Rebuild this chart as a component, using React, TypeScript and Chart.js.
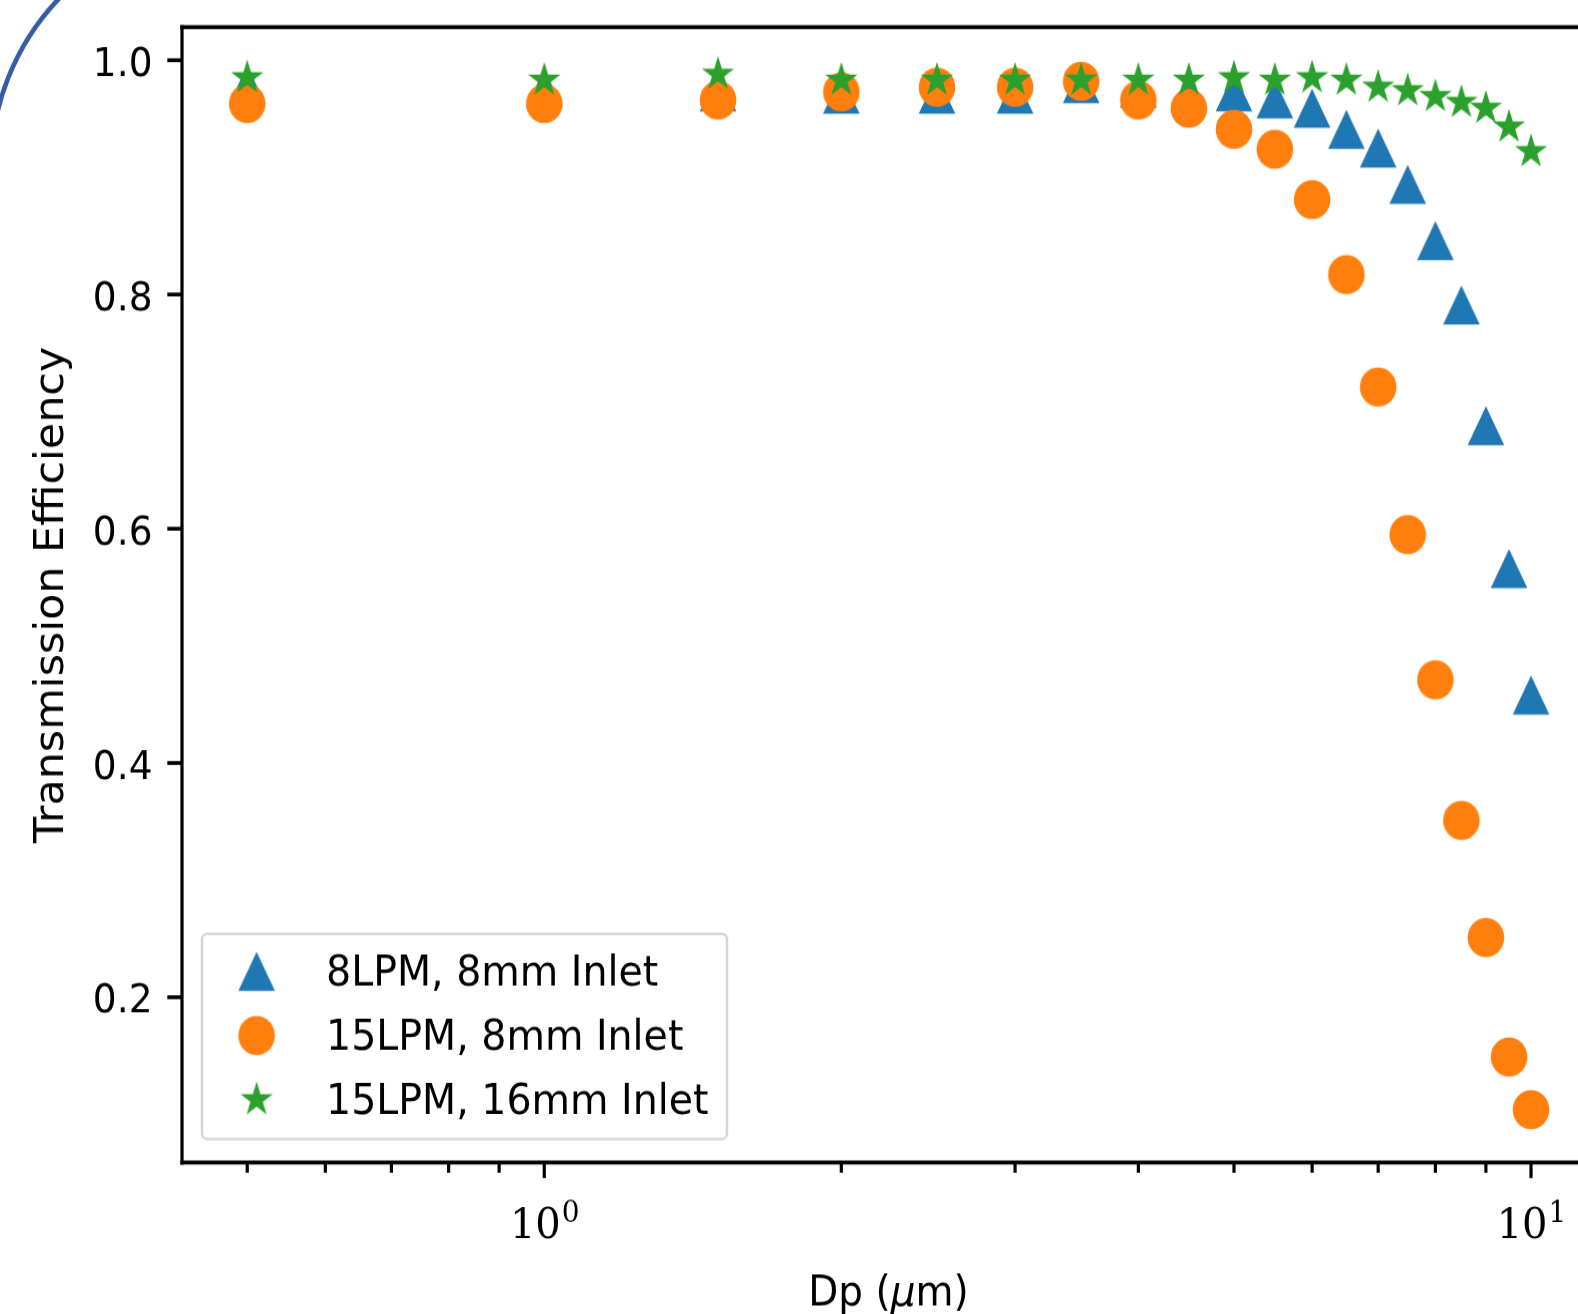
import React, { useEffect, useRef } from 'react';
import { Chart, registerables } from 'chart.js';

Chart.register(...registerables);

// ---------------- data ----------------
const diameters = [0.5, 1, 1.5, 2, 2.5, 3, 3.5, 4, 4.5, 5, 5.5, 6, 6.5, 7, 7.5, 8, 8.5, 9, 9.5, 10];
const eff8LPM8mm = [0.979, 0.976, 0.973, 0.971, 0.971, 0.971, 0.98, 0.976, 0.972, 0.973, 0.967, 0.959, 0.941, 0.925, 0.894, 0.846, 0.791, 0.688, 0.566, 0.458];
const eff15LPM8mm = [0.963, 0.963, 0.966, 0.973, 0.977, 0.977, 0.982, 0.966, 0.959, 0.941, 0.924, 0.881, 0.817, 0.721, 0.595, 0.471, 0.351, 0.251, 0.149, 0.104];
const eff15LPM16mm = [0.985, 0.983, 0.988, 0.983, 0.983, 0.983, 0.983, 0.983, 0.983, 0.985, 0.983, 0.985, 0.983, 0.977, 0.974, 0.969, 0.964, 0.959, 0.943, 0.922];

const seriesLabels = ['8LPM, 8mm Inlet', '15LPM, 8mm Inlet', '15LPM, 16mm Inlet'];
const seriesColors = ['#1f77b4', '#ff7f0e', '#2ca02c'];
const seriesMarkers = ['triangle', 'circle', 'star'];

const yTickValues = [0.2, 0.4, 0.6, 0.8, 1.0];
const yTickLabels = ['0.2', '0.4', '0.6', '0.8', '1.0'];
const xMajorTicks = [1, 10];
const xMajorBase = ['10', '10'];
const xMajorExp = ['0', '1'];
const xMinorTicks = [0.5, 0.6, 0.7, 0.8, 0.9, 2, 3, 4, 5, 6, 7, 8, 9];

const xTitleParts = ['Dp (', 'μ', 'm)'];
const yTitle = 'Transmission Efficiency';

// axis ranges
const X_MIN = 0.4294;
const X_MAX = 11.61;
const Y_MIN = 0.0589;
const Y_MAX = 1.0282;

// ---------------- geometry ----------------
const W = 1620;
const H = 1228;
const SY = 1314 / 1228;
const AREA_LEFT = 182;
const AREA_RIGHT = 1595;
const AREA_TOP = 25.4;
const AREA_BOTTOM = 1086.4;

function makeMarker(kind: string, color: string): HTMLCanvasElement {
  const size = 44;
  const c = document.createElement('canvas');
  c.width = size;
  c.height = size;
  const g = c.getContext('2d')!;
  const m = size / 2;
  g.fillStyle = color;
  g.beginPath();
  if (kind === 'circle') {
    g.arc(m, m, 18.3, 0, Math.PI * 2);
  } else if (kind === 'triangle') {
    const h = 18.3;
    g.moveTo(m, m - h);
    g.lineTo(m + h, m + h);
    g.lineTo(m - h, m + h);
    g.closePath();
  } else {
    const R = 17;
    const r = R * 0.381966;
    for (let k = 0; k < 10; k++) {
      const rad = k % 2 === 0 ? R : r;
      const a = -Math.PI / 2 + (k * Math.PI) / 5;
      const px = m + rad * Math.cos(a);
      const py = m + rad * Math.sin(a);
      if (k === 0) g.moveTo(px, py);
      else g.lineTo(px, py);
    }
    g.closePath();
  }
  g.fill();
  return c;
}

export default function App() {
  const ref = useRef<HTMLCanvasElement | null>(null);

  useEffect(() => {
    const canvas = ref.current;
    if (!canvas) return;
    const markers = seriesMarkers.map((k, i) => makeMarker(k, seriesColors[i]));
    const seriesValues = [eff8LPM8mm, eff15LPM8mm, eff15LPM16mm];

    const decorPlugin = {
      id: 'decor',
      afterDraw(chart: any) {
        const { ctx, chartArea: ca, scales } = chart;
        const xs = scales.x;
        const ys = scales.y;
        ctx.save();
        ctx.fillStyle = '#000';
        ctx.strokeStyle = '#000';
        ctx.lineCap = 'butt';

        // y ticks
        ctx.lineWidth = 3.6;
        ctx.font = '37.5px "DejaVu Sans"';
        ctx.textAlign = 'right';
        ctx.textBaseline = 'alphabetic';
        yTickValues.forEach((v, i) => {
          const py = ys.getPixelForValue(v);
          ctx.beginPath();
          ctx.moveTo(ca.left - 14.7, py);
          ctx.lineTo(ca.left, py);
          ctx.stroke();
          ctx.fillText(yTickLabels[i], ca.left - 29.5, py + 14.5);
        });

        // x ticks
        ctx.lineWidth = 3.2;
        xMinorTicks.forEach((v) => {
          const px = xs.getPixelForValue(v);
          ctx.beginPath();
          ctx.moveTo(px, ca.bottom);
          ctx.lineTo(px, ca.bottom + 9.6);
          ctx.stroke();
        });
        xMajorTicks.forEach((v, i) => {
          const px = xs.getPixelForValue(v);
          ctx.beginPath();
          ctx.moveTo(px, ca.bottom);
          ctx.lineTo(px, ca.bottom + 14.5);
          ctx.stroke();
          const baseFont = '40px "DejaVu Serif"';
          const expFont = '28px "DejaVu Serif"';
          ctx.font = baseFont;
          const wb = ctx.measureText(xMajorBase[i]).width;
          ctx.font = expFont;
          const we = ctx.measureText(xMajorExp[i]).width;
          const start = px - (wb + we) / 2;
          ctx.textAlign = 'left';
          ctx.font = baseFont;
          ctx.fillText(xMajorBase[i], start, ca.bottom + 70.9);
          ctx.font = expFont;
          ctx.fillText(xMajorExp[i], start + wb + 1, ca.bottom + 55.4);
        });

        // spines
        ctx.lineWidth = 3.2;
        ctx.beginPath();
        ctx.moveTo(ca.left, ca.top - 2);
        ctx.lineTo(ca.left, ca.bottom + 2);
        ctx.moveTo(ca.right, ca.top - 2);
        ctx.lineTo(ca.right, ca.bottom + 2);
        ctx.stroke();
        ctx.lineWidth = 3.8;
        ctx.beginPath();
        ctx.moveTo(ca.left - 1.6, ca.top);
        ctx.lineTo(ca.right + 1.6, ca.top);
        ctx.moveTo(ca.left - 1.6, ca.bottom);
        ctx.lineTo(ca.right + 1.6, ca.bottom);
        ctx.stroke();

        // x title with italic mu
        const fN = '39px "DejaVu Sans"';
        const fI = 'italic 39px "DejaVu Sans"';
        const fonts = [fN, fI, fN];
        const widths = xTitleParts.map((t, i) => {
          ctx.font = fonts[i];
          return ctx.measureText(t).width;
        });
        const totalW = widths.reduce((a, b) => a + b, 0);
        let tx = (ca.left + ca.right) / 2 - totalW / 2;
        ctx.textAlign = 'left';
        xTitleParts.forEach((t, i) => {
          ctx.font = fonts[i];
          ctx.fillText(t, tx, ca.bottom + 133.1);
          tx += widths[i];
        });

        // y title
        ctx.save();
        ctx.translate(63.3, (ca.top + ca.bottom) / 2);
        ctx.rotate(-Math.PI / 2);
        ctx.font = '40px "DejaVu Sans"';
        ctx.textAlign = 'center';
        ctx.fillText(yTitle, 0, 0);
        ctx.restore();

        // legend
        const lx0 = ca.left + 20;
        const lx1 = ca.left + 545;
        const ly1 = ca.bottom - 22;
        const ly0 = ly1 - 191.6;
        const rr = 5;
        ctx.beginPath();
        ctx.moveTo(lx0 + rr, ly0);
        ctx.lineTo(lx1 - rr, ly0);
        ctx.arcTo(lx1, ly0, lx1, ly0 + rr, rr);
        ctx.lineTo(lx1, ly1 - rr);
        ctx.arcTo(lx1, ly1, lx1 - rr, ly1, rr);
        ctx.lineTo(lx0 + rr, ly1);
        ctx.arcTo(lx0, ly1, lx0, ly1 - rr, rr);
        ctx.lineTo(lx0, ly0 + rr);
        ctx.arcTo(lx0, ly0, lx0 + rr, ly0, rr);
        ctx.closePath();
        ctx.fillStyle = 'rgba(255,255,255,0.8)';
        ctx.fill();
        ctx.strokeStyle = '#d6d6d6';
        ctx.lineWidth = 2.5;
        ctx.stroke();
        ctx.fillStyle = '#000';
        ctx.font = '39.5px "DejaVu Sans"';
        ctx.textAlign = 'left';
        chart.data.datasets.forEach((ds: any, i: number) => {
          const my = ly0 + 34.9 + i * 60;
          const img = ds.pointStyle as HTMLCanvasElement;
          ctx.drawImage(img, ca.left + 74.6 - img.width / 2, my - img.height / 2);
          ctx.fillText(ds.label, ca.left + 144, my + 13.5);
        });

        // decorative blue arc at top-left (only the visible corner piece)
        ctx.save();
        ctx.beginPath();
        ctx.rect(0, 0, 110, 120 / SY);
        ctx.clip();
        ctx.beginPath();
        ctx.strokeStyle = '#375ca6';
        ctx.lineWidth = 4.6;
        ctx.ellipse(236, 168 / SY, 245, 245 / SY, 0, 0, Math.PI * 2);
        ctx.stroke();
        ctx.restore();

        ctx.restore();
      },
    };

    const chart = new Chart(canvas, {
      type: 'scatter',
      data: {
        datasets: seriesLabels.map((label, i) => ({
          label,
          data: diameters.map((x, j) => ({ x, y: seriesValues[i][j] })),
          pointStyle: markers[i] as any,
          pointRadius: 18,
          backgroundColor: seriesColors[i],
          borderColor: seriesColors[i],
          order: 3 - i,
          showLine: false,
        })),
      },
      options: {
        responsive: false,
        animation: false,
        devicePixelRatio: 1,
        events: [],
        layout: { padding: { top: AREA_TOP, left: 0, right: W - AREA_RIGHT, bottom: 0 } },
        plugins: {
          legend: { display: false },
          tooltip: { enabled: false },
        },
        scales: {
          x: {
            type: 'logarithmic',
            position: 'bottom',
            min: X_MIN,
            max: X_MAX,
            bounds: 'data',
            ticks: { display: false },
            grid: { display: false },
            border: { display: false },
            afterFit: (s: any) => {
              s.height = H - AREA_BOTTOM;
              s.paddingLeft = 0;
              s.paddingRight = 0;
            },
          },
          y: {
            type: 'linear',
            position: 'left',
            min: Y_MIN,
            max: Y_MAX,
            bounds: 'data',
            ticks: { display: false },
            grid: { display: false },
            border: { display: false },
            afterFit: (s: any) => {
              s.width = AREA_LEFT;
              s.paddingTop = 0;
              s.paddingBottom = 0;
            },
          },
        },
      } as any,
      plugins: [decorPlugin],
    });

    return () => {
      chart.destroy();
    };
  }, []);

  return (
    <div
      style={{
        position: 'fixed',
        left: 0,
        top: 0,
        width: 1578,
        height: 1314,
        overflow: 'hidden',
        background: '#ffffff',
      }}
    >
      <canvas
        ref={ref}
        width={W}
        height={H}
        style={{
          position: 'absolute',
          left: 0,
          top: 0,
          width: W + 'px',
          height: H + 'px',
          display: 'block',
          transform: `scaleY(${SY})`,
          transformOrigin: '0 0',
        }}
      />
    </div>
  );
}
